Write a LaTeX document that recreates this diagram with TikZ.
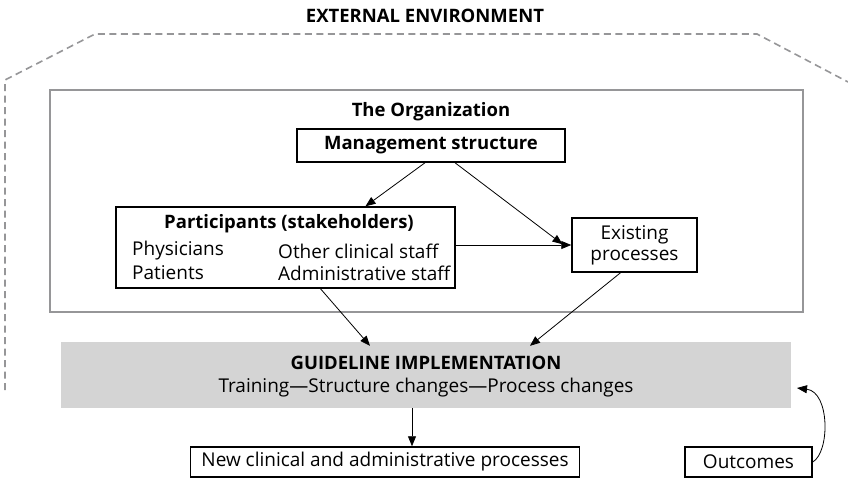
\documentclass[tikz,border=0pt]{standalone}
\usepackage{fontspec}
\setmainfont{Open Sans}
\usetikzlibrary{arrows.meta}
\definecolor{bandgray}{RGB}{212,212,212}
\definecolor{linegray}{RGB}{150,150,152}
\begin{document}
\begin{tikzpicture}[x=1pt,y=-1pt,
  box/.style={draw=black, line width=1.5pt, inner sep=0pt, font=\fontsize{19}{22}\selectfont},
  txt/.style={inner sep=0pt, font=\fontsize{19}{22}\selectfont},
  btxt/.style={inner sep=0pt, font=\fontsize{18.5}{22}\selectfont\bfseries},
  arr/.style={-{Triangle[length=10pt,width=8pt]}, line width=0.8pt},
  envline/.style={draw=linegray, line width=1.6pt, dash pattern=on 7pt off 4.5pt},
  orgline/.style={draw=linegray, line width=2pt}]
\useasboundingbox (0,0) rectangle (848,479);
% external environment
\node[btxt] (ext) at (425,16) {EXTERNAL ENVIRONMENT};
\draw[envline] (5,390) -- (5,80) -- (95,34) -- (757,34) -- (848,82);
% organization
\node[orgline, inner sep=0pt, minimum width=753pt, minimum height=222pt] (org) at (426.5,201) {};
\node[btxt] (orgt) at (431,112) {The Organization};
\node[box, minimum width=268pt, minimum height=33pt, font=\fontsize{18.5}{22}\selectfont\bfseries] (mgmt) at (431,145.5) {Management structure};
\node[box, minimum width=339pt, minimum height=81pt] (part) at (285.5,247.5) {};
\node[btxt] (partt) at (289,224) {Participants (stakeholders)};
\node[txt, anchor=west] (phys) at (132,251) {Physicians};
\node[txt, anchor=west] (pat) at (132,273) {Patients};
\node[txt, anchor=west] (ocs) at (278,251) {Other clinical staff};
\node[txt, anchor=west] (adm) at (278,273) {Administrative staff};
\node[box, minimum width=125pt, minimum height=54pt, align=center] (exist) at (634.5,245) {Existing\\[-1pt]processes};
% guideline implementation
\node[fill=bandgray, inner sep=0pt, minimum width=730pt, minimum height=66pt] (guide) at (426,375) {};
\node[btxt] (guidet) at (426,363) {GUIDELINE IMPLEMENTATION};
\node[txt] (guides) at (426,388) {Training—Structure changes—Process changes};
% bottom boxes
\node[box, minimum height=30pt, inner xsep=11pt] (newp) at (385,462) {New clinical and administrative processes};
\node[box, minimum width=127pt, minimum height=30pt] (outc) at (748.5,462) {Outcomes};
\coordinate (fb) at (797,388);
% connectors
\draw[arr] ([xshift=-6pt]mgmt.south) -- ([xshift=80pt]part.north);
\draw[arr] ([xshift=24pt]mgmt.south) -- ([xshift=-72pt,yshift=-27pt]exist.north);
\draw[arr] (part.east |- exist.west) -- (exist.west);
\draw[arr] ([xshift=35pt]part.south) -- ([xshift=-56pt,yshift=-4pt]guide.north);
\draw[arr] ([xshift=-14pt]exist.south) -- ([xshift=104pt,yshift=-4pt]guide.north);
\draw[arr] (412,408) coordinate (gs) -- (gs |- newp.north);
\draw[arr] (outc.east) .. controls (830,452) and (830,392) .. (fb);
\end{tikzpicture}
\end{document}
